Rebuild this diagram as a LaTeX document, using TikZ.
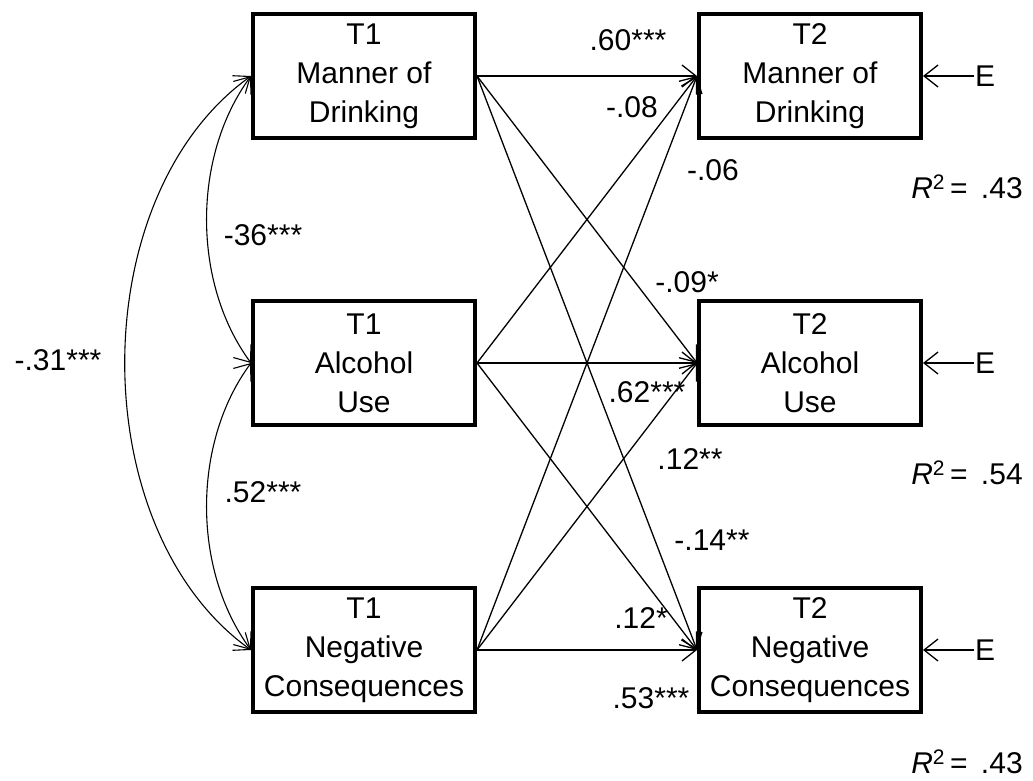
\documentclass[tikz,border=0pt]{standalone}
\usepackage{fontspec}
\setmainfont{Liberation Sans}
\usetikzlibrary{arrows.meta}
\tikzset{
  varbox/.style={draw, line width=4pt, minimum width=222pt, minimum height=124pt, align=center, inner sep=0pt},
  coefpath/.style={line width=1.3pt, -{Straight Barb[length=14pt,width=22pt]}},
  covpath/.style={line width=1.1pt, {Straight Barb[length=14pt,width=22pt]}-{Straight Barb[length=14pt,width=22pt]}},
  coef/.style={inner sep=0pt},
}

\begin{document}
\begin{tikzpicture}[x=1pt, y=-1pt, every node/.style={font=\fontsize{30}{39}\selectfont}]
              \useasboundingbox (0,0) rectangle (1033,781);

              % T1 variables
              \node[varbox] (mod1) at (364,76) {T1\\Manner of\\Drinking};
              \node[varbox] (use1) at (364,363) {T1\\Alcohol\\Use};
              \node[varbox] (neg1) at (364,650) {T1\\Negative\\Consequences};

              % T2 variables
              \node[varbox] (mod2) at (810,76) {T2\\Manner of\\Drinking};
              \node[varbox] (use2) at (810,363) {T2\\Alcohol\\Use};
              \node[varbox] (neg2) at (810,650) {T2\\Negative\\Consequences};

              % Error terms
              \node[inner sep=1pt] (err1) at (985,76) {E};
              \node[inner sep=1pt] (err2) at (985,363) {E};
              \node[inner sep=1pt] (err3) at (985,650) {E};
              \draw[coefpath] (err1) -- (mod2.east);
              \draw[coefpath] (err2) -- (use2.east);
              \draw[coefpath] (err3) -- (neg2.east);

              % Paths from T1 to T2
              \draw[coefpath] (mod1.east) -- (mod2.west);
              \draw[coefpath] (mod1.east) -- (use2.west);
              \draw[coefpath] (mod1.east) -- (neg2.west);
              \draw[coefpath] (use1.east) -- (mod2.west);
              \draw[coefpath] (use1.east) -- (use2.west);
              \draw[coefpath] (use1.east) -- (neg2.west);
              \draw[coefpath] (neg1.east) -- (mod2.west);
              \draw[coefpath] (neg1.east) -- (use2.west);
              \draw[coefpath] (neg1.east) -- (neg2.west);

              % Correlations among T1 variables
              \draw[covpath] (mod1.west) .. controls +(-59,80) and +(-59,-80) .. (use1.west);
              \draw[covpath] (use1.west) .. controls +(-59,80) and +(-59,-80) .. (neg1.west);
              \draw[covpath] (mod1.west) .. controls +(-168,120) and +(-168,-120) .. (neg1.west);

              % Coefficients
              \node[coef] (c1) at (58,360) {-.31***};
              \node[coef] (c2) at (263,235) {-36***};
              \node[coef] (c3) at (263,492) {.52***};
              \node[coef] (c4) at (628,40) {.60***};
              \node[coef] (c5) at (632,107) {-.08};
              \node[coef] (c6) at (713,170) {-.06};
              \node[coef] (c7) at (687,282) {-.09*};
              \node[coef] (c8) at (647,392) {.62***};
              \node[coef] (c9) at (690,459) {.12**};
              \node[coef] (c10) at (712,540) {-.14**};
              \node[coef] (c11) at (641,618) {.12*};
              \node[coef] (c12) at (651,698) {.53***};

              % Explained variance
              \node[coef] (r1) at (967,187) {\textit{R}\textsuperscript{2}\,= \,.43};
              \node[coef] (r2) at (967,473) {\textit{R}\textsuperscript{2}\,= \,.54};
              \node[coef] (r3) at (967,762) {\textit{R}\textsuperscript{2}\,= \,.43};
            \end{tikzpicture}
\end{document}
